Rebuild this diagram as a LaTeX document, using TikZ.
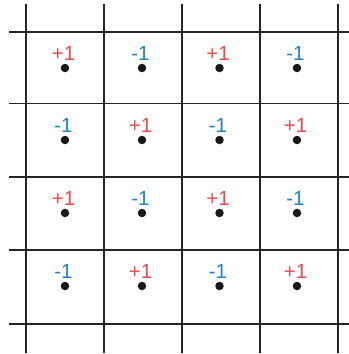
\documentclass[tikz,border=0pt]{standalone}
\usepackage{fontspec}
\setmainfont{Liberation Sans}
\definecolor{plusred}{HTML}{EC4A4C}
\definecolor{minusblue}{HTML}{1C84C6}
\definecolor{gridgray}{HTML}{262626}
\begin{document}
\begin{tikzpicture}[x=1bp,y=-1bp,
  gridline/.style={draw=gridgray,line width=1.6bp},
  spin/.style={circle,fill=black!90,inner sep=0pt,minimum size=8.5bp},
  pluslbl/.style={text=plusred,font=\fontsize{20.5}{20.5}\selectfont,inner sep=0pt},
  minuslbl/.style={text=minusblue,font=\fontsize{20.5}{20.5}\selectfont,inner sep=0pt}]
\useasboundingbox (0,0) rectangle (349,354);
% vertical lines
\foreach \x [count=\i] in {26,104,182,260,338}{
  \coordinate (vt\i) at (\x,4);
  \coordinate (vb\i) at (\x,353);
  \draw[gridline] (vt\i) -- (vb\i);
}
% horizontal lines
\foreach \y [count=\i] in {32,103.5,177,250,324}{
  \coordinate (hl\i) at (9,\y);
  \coordinate (hr\i) at (349,\y);
  \draw[gridline] (hl\i) -- (hr\i);
}
% dots and labels
\foreach \y [count=\r] in {68,140,213,286}{
  \foreach \x [count=\c] in {65,142,219.5,297}{
    \node[spin] (d\r\c) at (\x,\y) {};
    \pgfmathtruncatemacro{\spinpar}{mod(\r+\c,2)}
    \ifnum\spinpar=0
      \node[pluslbl] (l\r\c) at (\x-1.5,\y-14.5) {+1};
    \else
      \node[minuslbl] (l\r\c) at (\x-1.5,\y-14.5) {-1};
    \fi
  }
}
\end{tikzpicture}
\end{document}
